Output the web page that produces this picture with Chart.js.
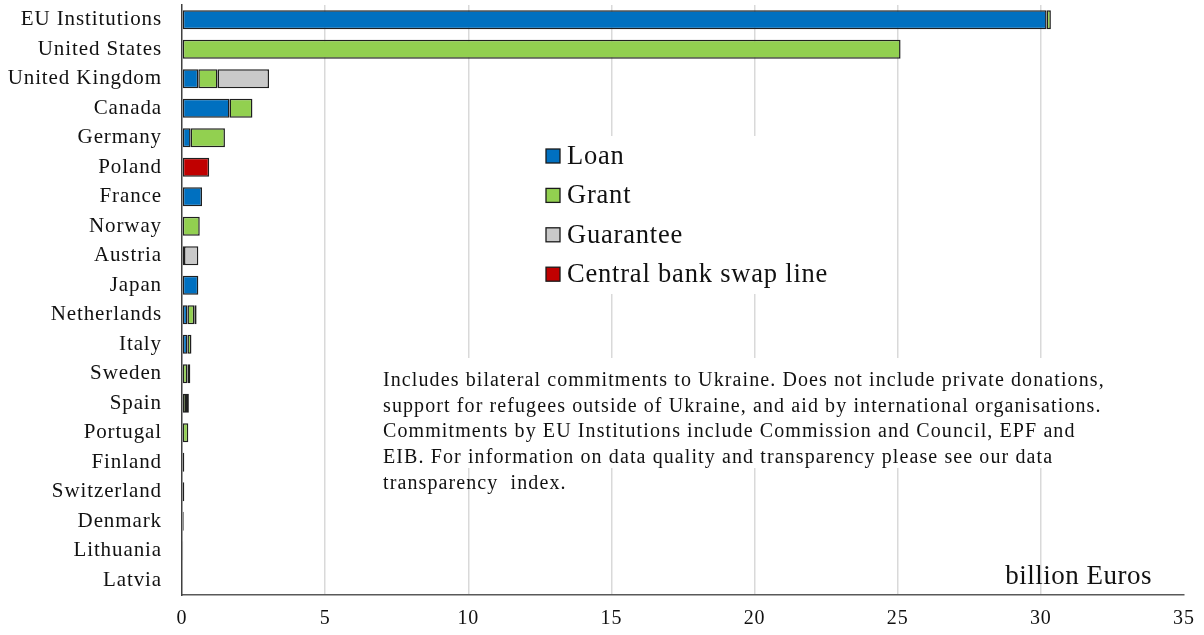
<!DOCTYPE html>
<html>
<head>
<meta charset="utf-8">
<script src="https://cdn.jsdelivr.net/npm/chart.js@4.4.0/dist/chart.umd.min.js"></script>
<style>
  html, body { margin: 0; padding: 0; background: #fff; }
  #wrap { width: 1204px; height: 635px; }
</style>
</head>
<body>
<div id="wrap"><canvas id="myChart" width="1204" height="635"></canvas></div>
<script>
// data (billion Euros)
const countries = ['EU Institutions', 'United States', 'United Kingdom', 'Canada', 'Germany', 'Poland',
  'France', 'Norway', 'Austria', 'Japan', 'Netherlands', 'Italy', 'Sweden', 'Spain', 'Portugal',
  'Finland', 'Switzerland', 'Denmark', 'Lithuania', 'Latvia'];
const loan = [30.2, null, 0.57, 1.66, 0.3, null, 0.7, null, null, 0.57, 0.19, 0.19, null, null, null, null, null, null, null, null];
const grant = [0.15, 25.1, 0.67, 0.8, 1.2, null, null, 0.62, 0.07, null, 0.24, 0.14, 0.19, 0.14, 0.22, 0.08, 0.08, 0.06, 0.04, 0.03];
const guarantee = [null, null, 1.8, null, null, null, null, null, 0.5, null, 0.08, null, 0.1, 0.1, null, null, null, null, null, null];
const swapLine = [null, null, null, null, null, 0.95, null, null, null, null, null, null, null, null, null, null, null, null, null, null];
const xTicks = [0, 5, 10, 15, 20, 25, 30, 35];

const seriesNames = ['Loan', 'Grant', 'Guarantee', 'Central bank swap line'];
const seriesColors = ['#0070C0', '#92D050', '#C9C9C9', '#C00000'];

const noteLines = [
  'Includes bilateral commitments to Ukraine. Does not include private donations,',
  'support for refugees outside of Ukraine, and aid by international organisations.',
  'Commitments by EU Institutions include Commission and Council, EPF and',
  'EIB. For information on data quality and transparency please see our data',
  'transparency  index.'
];
const unitLabel = 'billion Euros';

const serif = '"Liberation Serif", "Times New Roman", serif';

// draws the in-plot legend, the note and the unit label
const overlay = {
  id: 'overlay',
  beforeDraw(chart) {
    // the original text is set a bit wider than the canvas default
    chart.ctx.letterSpacing = '0.9px';
  },
  beforeDatasetsDraw(chart) {
    const c = chart.ctx;
    c.letterSpacing = '0px';
    c.save();
    c.fillStyle = '#fff';
    c.fillRect(533, 136, 312, 158);   // legend box hides gridlines
    c.fillRect(376, 358, 735, 110);   // note box hides gridlines
    c.restore();
  },
  afterDraw(chart) {
    const c = chart.ctx;
    c.save();
    // legend
    c.letterSpacing = '0.8px';
    c.font = '26.5px ' + serif;
    c.textBaseline = 'middle';
    chart.data.datasets.forEach(function (ds, i) {
      const y = 156 + i * 39.4;
      c.fillStyle = ds.backgroundColor;
      c.fillRect(546, y - 7, 14, 14);
      c.strokeStyle = '#1a1a1a';
      c.lineWidth = 1.3;
      c.strokeRect(546, y - 7, 14, 14);
      c.fillStyle = '#111';
      c.fillText(ds.label, 567, y + 1);
    });
    // note
    c.letterSpacing = '1.1px';
    c.font = '20px ' + serif;
    c.fillStyle = '#111';
    noteLines.forEach(function (line, i) {
      c.fillText(line, 383, 381 + i * 25.6);
    });
    // unit
    c.letterSpacing = '0.5px';
    c.font = '27px ' + serif;
    c.textAlign = 'right';
    c.textBaseline = 'alphabetic';
    c.fillText(unitLabel, 1152, 584);
    c.restore();
    c.letterSpacing = '0px';
  }
};

const ctx = document.getElementById('myChart').getContext('2d');
const seriesData = [loan, grant, guarantee, swapLine];

new Chart(ctx, {
  type: 'bar',
  data: {
    labels: countries,
    datasets: seriesNames.map(function (name, i) {
      return {
        label: name,
        data: seriesData[i],
        backgroundColor: seriesColors[i],
        borderColor: '#1f1f1f',
        borderWidth: 1.5,
        borderSkipped: false,
        barPercentage: 0.65,
        categoryPercentage: 1
      };
    })
  },
  options: {
    indexAxis: 'y',
    responsive: false,
    animation: false,
    layout: { padding: { top: 5, right: 20, left: 0, bottom: 0 } },
    scales: {
      x: {
        stacked: true,
        min: 0,
        max: 35,
        afterBuildTicks(scale) {
          scale.ticks = xTicks.map(function (v) { return { value: v }; });
        },
        afterFit(scale) {
          scale.height = 40;
          scale.paddingLeft = 0;
          scale.paddingRight = 0;
        },
        grid: {
          drawTicks: false,
          lineWidth: 1.5,
          color(c) {
            if (c.tick && (c.tick.value === 0 || c.tick.value === 35)) return 'rgba(0,0,0,0)';
            return '#D9D9D9';
          }
        },
        border: { display: true, color: '#595959', width: 1.5 },
        ticks: {
          color: '#111',
          padding: 12,
          font: { family: serif, size: 20 },
          maxRotation: 0
        }
      },
      y: {
        stacked: true,
        afterFit(scale) {
          scale.width = 182;
          scale.paddingTop = 0;
          scale.paddingBottom = 0;
        },
        grid: { display: false, drawTicks: false },
        border: { display: true, color: '#404040', width: 1.5 },
        ticks: {
          color: '#111',
          padding: 20,
          autoSkip: false,
          font: { family: serif, size: 21 }
        }
      }
    },
    plugins: {
      legend: { display: false },
      tooltip: { enabled: false },
      title: { display: false }
    }
  },
  plugins: [overlay]
});
</script>
</body>
</html>
